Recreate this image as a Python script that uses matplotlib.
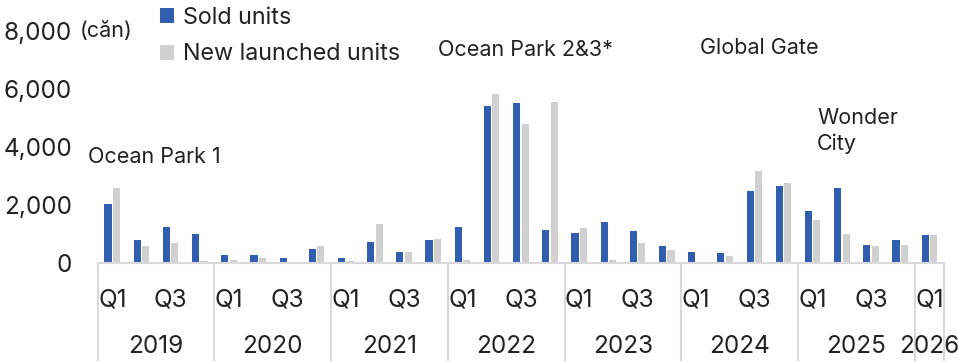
import matplotlib
matplotlib.use("Agg")
from matplotlib import pyplot as plt
from matplotlib.transforms import blended_transform_factory

plt.rcParams['font.family'] = ['Inter', 'DejaVu Sans']

years = ['2019', '2020', '2021', '2022', '2023', '2024', '2025', '2026']
quarters_per_year = [4, 4, 4, 4, 4, 4, 4, 1]
quarter_labels = ['Q1', '', 'Q3', '']

sold = [2050, 800, 1250, 1010,
        275, 275, 180, 495,
        180, 735, 390, 795,
        1240, 5425, 5520, 1150,
        1035, 1435, 1100, 600,
        390, 355, 2490, 2675,
        1815, 2595, 620, 795,
        965]
launched = [2600, 600, 710, 90,
            125, 180, 30, 600,
            90, 1345, 390, 840,
            125, 5830, 4800, 5570,
            1230, 125, 690, 460,
            0, 240, 3190, 2780,
            1490, 1000, 600, 630,
            965]

yticks = [0, 2000, 4000, 6000, 8000]

BLUE = '#325EAF'
GREY = '#D0D0D0'
LINE = '#D9D9D9'
TXT = '#222222'
FS = 15.5      # annotations
FS_NUM = 17.5  # tick labels / years
FS_LEG = 16.8

W, H = 959, 361
fig = plt.figure(figsize=(W / 100, H / 100), dpi=100)
x0, x1 = 97.7, 944
ybase, ytop = 263.3, 31
ax = fig.add_axes([x0 / W, (H - ybase) / H, (x1 - x0) / W, (ybase - ytop) / H])

n = len(sold)
xs = list(range(n))
bw = 0.245
ax.bar([x - 0.145 for x in xs], sold, width=bw, color=BLUE, label='Sold units')
ax.bar([x + 0.145 for x in xs], launched, width=bw, color=GREY, label='New launched units')

ax.set_xlim(-0.5, n - 0.5)
ax.set_ylim(0, 8000)
for s in ['left', 'top', 'right']:
    ax.spines[s].set_visible(False)
ax.spines['bottom'].set_color(LINE)
ax.spines['bottom'].set_linewidth(1.5)

ax.set_yticks(yticks)
ax.set_yticklabels([f'{v:,}' for v in yticks], fontsize=FS_NUM, color=TXT)
ax.tick_params(axis='y', length=0, pad=18.5)

qlabels = []
for cnt in quarters_per_year:
    qlabels += quarter_labels[:cnt]
ax.set_xticks(xs)
ax.set_xticklabels(qlabels, fontsize=FS_NUM, color=TXT)
ax.tick_params(axis='x', length=0, pad=18)

trans = blended_transform_factory(ax.transData, ax.transAxes)
ylow = -(H - ybase) / (ybase - ytop)
start = -0.5
for yr, cnt in zip(years, quarters_per_year):
    ax.plot([start, start], [0, ylow], color=LINE, lw=1.5, transform=trans, clip_on=False)
    ax.text(start + cnt / 2, -0.36, yr, transform=trans, ha='center', va='center',
            fontsize=FS_NUM, color=TXT)
    start += cnt
ax.plot([start, start], [0, ylow], color=LINE, lw=1.5, transform=trans, clip_on=False)

# unit label next to top tick
fig.text(80 / W, 1 - 31 / H, '(căn)', fontsize=FS, color=TXT, ha='left', va='center')

# project annotations
fig.text(88 / W, 1 - 157 / H, 'Ocean Park 1', fontsize=FS, color=TXT, ha='left', va='center')
fig.text(438 / W, 1 - 50 / H, 'Ocean Park 2&3*', fontsize=FS, color=TXT, ha='left', va='center')
fig.text(700 / W, 1 - 48 / H, 'Global Gate', fontsize=FS, color=TXT, ha='left', va='center')
fig.text(817 / W, 1 - 131 / H, 'Wonder\nCity', fontsize=FS, color=TXT, ha='left', va='center',
         linespacing=1.35)

leg = fig.legend(loc='upper left', bbox_to_anchor=(160 / W, 1 - 7 / H), frameon=False,
                 fontsize=FS_LEG, handlelength=0.62, handleheight=0.62, handletextpad=0.35,
                 labelspacing=0.62, borderaxespad=0, borderpad=0)
for t in leg.get_texts():
    t.set_color(TXT)

fig.savefig('out.png', dpi=100)
